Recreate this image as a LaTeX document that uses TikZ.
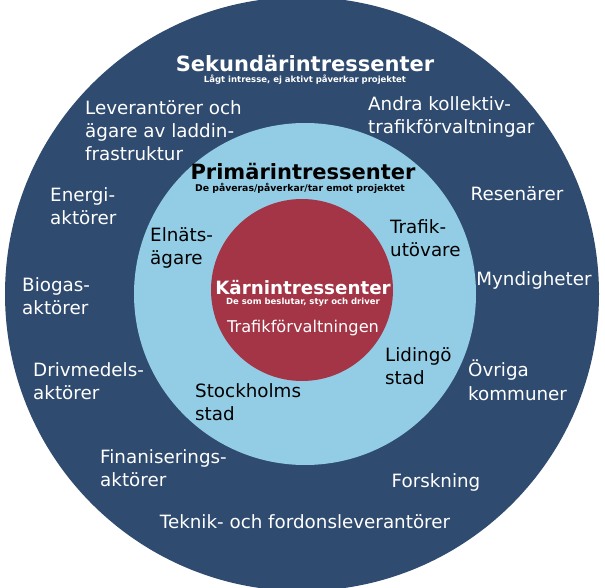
\documentclass[tikz,border=0pt]{standalone}
\usepackage{fontspec}
\setmainfont{DejaVu Sans}
\definecolor{outerc}{HTML}{2F4B6F}
\definecolor{midc}{HTML}{93CDE5}
\definecolor{corec}{HTML}{A33547}
\begin{document}
\begin{tikzpicture}[x=1pt,y=-1pt,
  wt/.style={text=white,font=\fontsize{18.3}{23.3}\selectfont,inner sep=0pt},
  wl/.style={wt,anchor=north west,align=left},
  bt/.style={text=black,font=\fontsize{18.3}{23.3}\selectfont,inner sep=0pt,anchor=north west,align=left},
  ttl/.style={font=\bfseries\fontsize{21}{24}\selectfont,inner sep=0pt},
  sub/.style={font=\bfseries\fontsize{9.3}{10}\selectfont,inner sep=0pt}]
\useasboundingbox (0,0) rectangle (605,588);
\fill[white] (0,0) rectangle (605,588);
\node[circle,fill=outerc,minimum size=594pt,inner sep=0pt] (outer) at (302,294) {};
\node[circle,fill=midc,minimum size=342pt,inner sep=0pt] (mid) at (305,294) {};
\node[circle,fill=corec,minimum size=182pt,inner sep=0pt] (core) at (302,290) {};
% secondary
\node[ttl,text=white] (st) at (305,64) {Sekundärintressenter};
\node[sub,text=white,font=\bfseries\fontsize{8.5}{10}\selectfont] (ss) at (305,80) {Lågt intresse, ej aktivt påverkar projektet};
\node[wl] (a1) at (85,100) {Leverantörer och\\ägare av laddin-\\frastruktur};
\node[wl] (a2) at (368,96) {Andra kollektiv-\\trafikförvaltningar};
\node[wl] (a3) at (50,187) {Energi-\\aktörer};
\node[wt] (a4) at (517,194) {Resenärer};
\node[wt] (a6) at (534,280) {Myndigheter};
\node[wl] (a5) at (22,277) {Biogas-\\aktörer};
\node[wl] (a7) at (33,362) {Drivmedels-\\aktörer};
\node[wl] (a8) at (468,360) {Övriga\\kommuner};
\node[wl] (a9) at (100,449) {Finaniserings-\\aktörer};
\node[wt] (a10) at (436,482) {Forskning};
\node[wt] (a11) at (305,522) {Teknik- och fordonsleverantörer};
% primary
\node[ttl,text=black] (pt) at (303,172) {Primärintressenter};
\node[sub,text=black] (ps) at (300,188) {De påveras/påverkar/tar emot projektet};
\node[bt] (b1) at (150,227) {Elnäts-\\ägare};
\node[bt] (b2) at (390,219) {Trafik-\\utövare};
\node[bt] (b3) at (385,347) {Lidingö\\stad};
\node[bt] (b4) at (195,383) {Stockholms\\stad};
% core
\node[ttl,text=white,font=\bfseries\fontsize{18.3}{21}\selectfont] (ct) at (303,288) {Kärnintressenter};
\node[sub,text=white,font=\bfseries\fontsize{8.5}{10}\selectfont] (cs) at (303,302) {De som beslutar, styr och driver};
\node[wt,font=\fontsize{16.2}{19}\selectfont] (cc) at (303,328) {Trafikförvaltningen};
\end{tikzpicture}
\end{document}
